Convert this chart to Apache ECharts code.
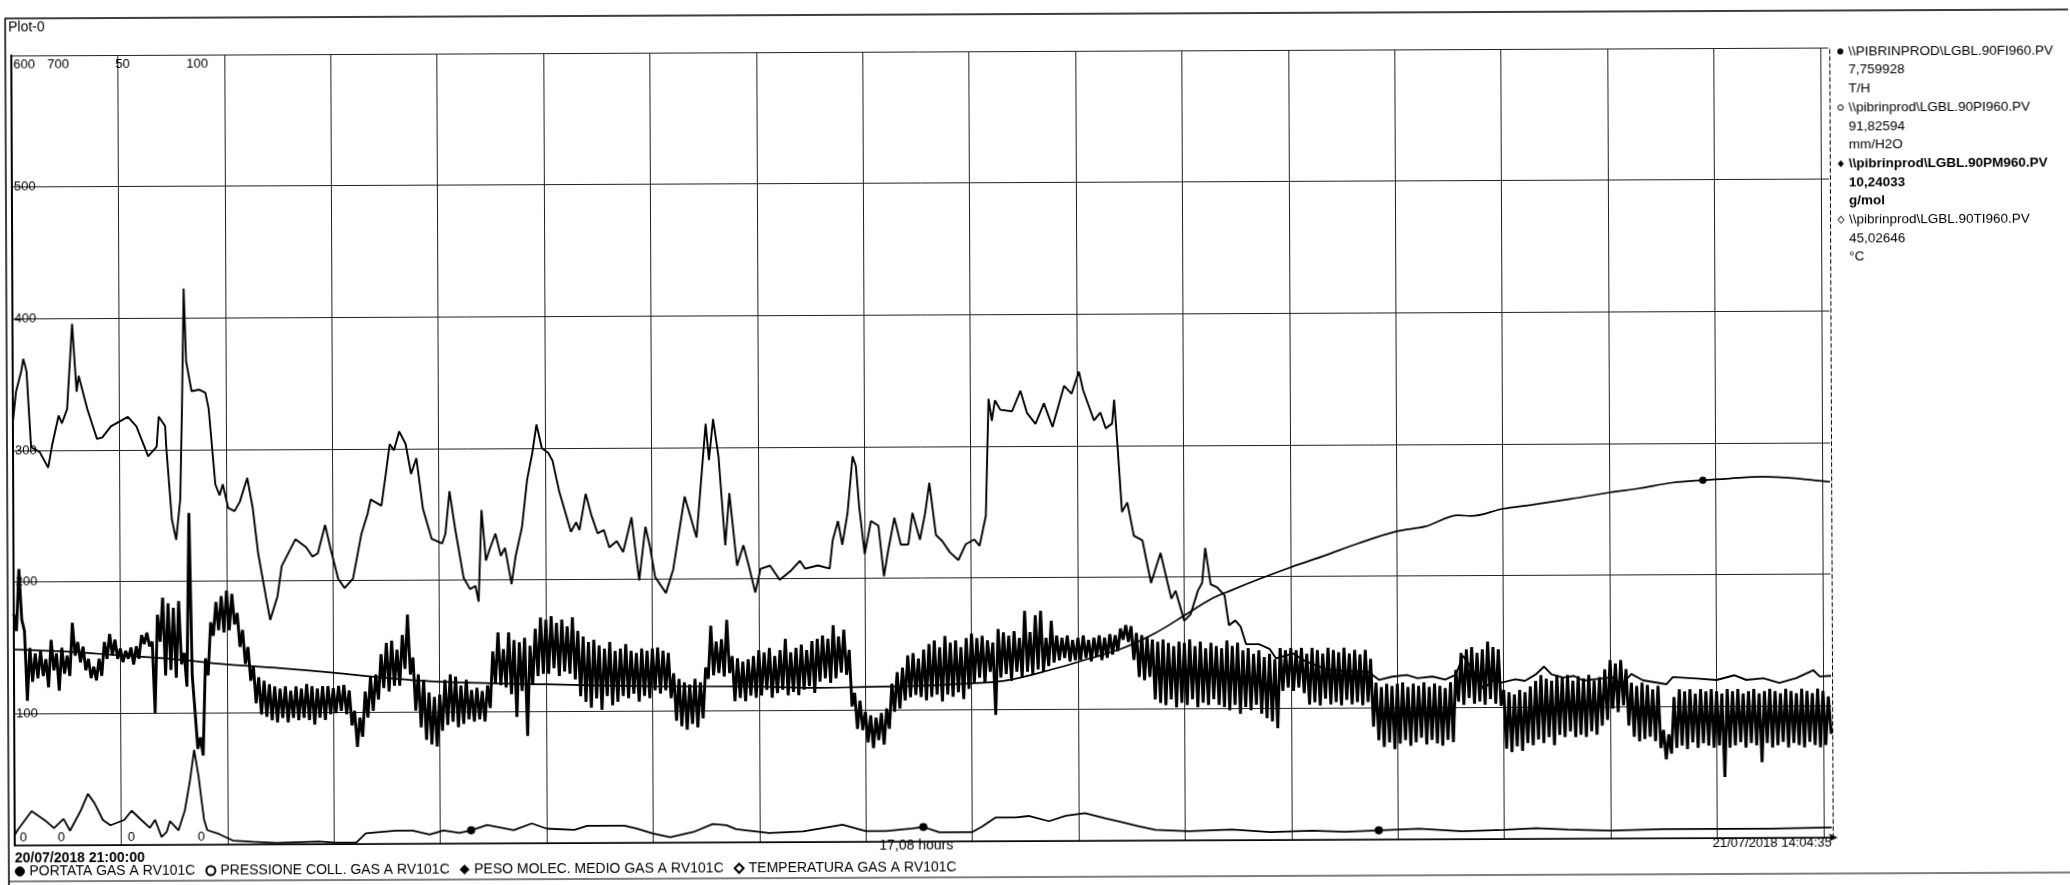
<!DOCTYPE html>
<html><head><meta charset="utf-8">
<script src="https://cdn.jsdelivr.net/npm/echarts@6/dist/echarts.min.js"></script>
<style>html,body{margin:0;padding:0;background:#fff;overflow:hidden}#c{width:2070px;height:885px;transform:rotate(-0.25deg);transform-origin:50% 50%}</style>
</head><body><div id="c"></div>
<script>
// ---------- data ----------
const hoursSpan = 17.0764;                  // 20/07 21:00:00 -> 21/07 14:04:35
const xLabels = ['20/07/2018 21:00:00', '21/07/2018 14:04:35'];
const spanLabel = '17,08 hours';
const seriesNames = ['PORTATA GAS A RV101C', 'PRESSIONE COLL. GAS A RV101C', 'PESO MOLEC. MEDIO GAS A RV101C', 'TEMPERATURA GAS A RV101C'];
const seriesIcons = ['circle', 'emptyCircle', 'diamond', 'emptyDiamond'];
const axisMax = [600, 700, 50, 100];
const axisGridStep = 100;

// PORTATA (T/H) [hours, value]
const portata = [[0,8],[0.03,12],[0.16,26],[0.30,18],[0.37,13],[0.46,20],[0.52,11],[0.62,26],[0.69,39],[0.75,32],[0.83,19],[0.90,15],[1.03,19],[1.10,26],[1.19,19],[1.27,13],[1.32,19],[1.38,6],[1.43,10],[1.46,18],[1.54,11],[1.60,26],[1.65,49],[1.69,72],[1.73,52],[1.78,19],[1.81,11],[1.92,8],[2.05,3],[2.24,2],[2.46,1],[2.86,2],[3.02,1],[3.21,1],[3.30,8],[3.58,10],[3.74,10],[3.90,7],[4.03,10],[4.18,8],[4.29,10],[4.44,14],[4.69,10],[4.86,15],[5.00,11],[5.26,10],[5.38,13],[5.73,13],[5.84,11],[6.00,7],[6.16,4],[6.38,8],[6.56,14],[6.69,13],[6.78,10],[7.09,7],[7.41,8],[7.78,13],[8.00,8],[8.19,8],[8.44,10],[8.54,11],[8.69,7],[9.00,7],[9.09,11],[9.22,18],[9.41,18],[9.53,19],[9.72,15],[9.88,19],[10.06,21],[10.25,17],[10.41,14],[10.56,11],[10.72,8],[11.03,7],[11.44,8],[11.80,6],[12.20,7],[12.50,6],[12.82,7],[13.20,8],[13.60,6],[14.00,7],[14.30,8],[14.60,7],[15.00,6],[15.50,7],[16.00,7],[16.50,7],[17.0764,7.76]];
const portataMarks = [4.29, 8.54, 12.82];

// PRESSIONE (mm/H2O): upper-envelope readings every 0.05 h (from 21:00) and
// lower-envelope readings at the 0.025 h offsets in between
const pressioneStep = 0.05;
const pressioneHi = [
205,245,190,175,170,172,165,182,170,175,168,197,180,176,165,158,165,180,187,182,
174,172,175,176,186,188,180,204,219,214,210,216,170,294,118,95,165,197,215,220,
225,222,205,190,175,158,148,145,142,140,138,140,136,140,138,142,140,138,140,140,
138,140,141,136,118,112,135,148,150,168,178,180,172,185,203,165,150,145,134,130,
132,145,150,148,140,145,136,138,135,140,170,187,172,187,180,178,182,175,190,200,
198,201,195,198,192,200,188,183,178,180,175,172,178,170,172,176,170,168,172,170,
172,173,170,168,150,145,142,140,145,142,155,192,178,180,197,165,163,160,162,165,
170,168,172,165,170,180,168,172,175,170,178,180,183,180,192,182,188,170,132,125,
115,112,110,114,118,140,150,154,165,167,162,170,175,178,172,182,176,178,172,180,
184,180,182,178,176,188,185,182,186,180,204,185,200,204,180,195,182,180,182,178,
180,182,178,180,182,180,183,182,188,191,190,184,182,180,178,176,178,175,172,176,
175,178,172,176,170,175,172,170,177,172,175,168,170,165,168,162,165,160,170,168,
170,168,170,165,170,168,165,170,168,166,170,165,168,164,168,160,139,135,138,136,
138,139,135,138,136,139,135,138,136,134,139,150,165,168,170,165,168,175,170,168,
132,130,128,132,130,135,140,145,142,140,145,143,145,140,144,142,145,140,143,150,
158,155,158,150,138,135,138,136,132,135,96,92,125,132,130,132,128,132,130,132,
130,128,132,130,132,128,130,132,128,130,132,130,128,132,130,128,132,130,128,132,
130,125];
const pressioneLo = [
190,200,128,145,148,150,140,155,137,152,150,168,162,155,148,146,150,165,168,165,
162,165,160,165,178,176,117,180,150,155,148,160,140,150,85,79,150,185,190,188,
190,195,175,160,145,125,115,113,110,108,112,108,112,110,112,110,106,112,110,115,
116,118,115,105,86,95,112,118,128,138,135,140,140,155,150,118,103,92,88,86,
100,105,108,103,106,110,108,110,108,120,142,140,138,132,112,135,95,140,148,150,
150,155,148,152,150,145,130,125,120,128,118,130,122,125,130,128,132,125,130,128,
135,132,135,128,108,103,100,105,102,110,145,148,150,147,150,125,128,125,130,128,
130,135,128,132,135,130,133,130,135,138,132,142,145,141,145,150,148,120,100,99,
88,83,90,86,100,115,118,125,128,130,128,125,128,130,124,130,128,132,126,135,
140,145,140,150,112,145,148,142,150,145,150,148,152,150,155,158,160,162,159,160,
160,162,159,163,160,162,165,168,178,176,160,145,142,145,125,122,120,125,118,122,
120,125,118,122,120,125,120,118,115,120,112,118,115,120,112,108,105,99,132,135,
132,135,130,120,122,119,125,120,122,119,124,120,122,119,122,100,88,82,86,80,
85,88,83,86,90,84,88,85,83,88,86,122,119,125,120,122,119,124,120,118,
80,77,82,78,85,83,88,85,90,83,92,90,95,90,92,90,95,92,100,105,
115,112,118,100,90,86,88,90,86,80,70,75,80,82,79,85,80,84,82,80,
82,54,80,82,85,80,84,82,67,84,80,82,85,80,84,82,80,85,82,80,
82];
const pressioneEnd = 91.83;

// PESO MOLECOLARE (g/mol) [hours, value]
const peso = [[0.00,26.8],[0.03,28.7],[0.08,30.0],[0.10,30.8],[0.13,30.0],[0.17,25.2],[0.25,24.9],[0.33,23.9],[0.37,25.4],[0.43,27.2],[0.46,26.7],[0.51,27.6],[0.56,33.0],[0.60,28.7],[0.62,29.7],[0.70,27.6],[0.79,25.7],[0.84,25.8],[0.92,26.5],[1.08,27.1],[1.16,26.5],[1.27,24.6],[1.35,25.2],[1.37,27.1],[1.40,26.8],[1.43,26.5],[1.44,25.2],[1.49,20.6],[1.53,19.3],[1.57,21.9],[1.59,27.8],[1.61,35.2],[1.63,30.6],[1.68,28.7],[1.75,28.8],[1.81,28.6],[1.84,27.6],[1.90,22.8],[1.94,22.1],[1.97,22.8],[2.02,21.3],[2.08,21.1],[2.13,21.7],[2.20,23.2],[2.25,21.3],[2.30,18.4],[2.37,15.7],[2.41,14.2],[2.48,15.7],[2.52,17.6],[2.65,19.3],[2.75,18.8],[2.81,18.2],[2.86,18.4],[2.93,20.2],[2.98,18.7],[3.05,16.8],[3.11,16.2],[3.19,16.8],[3.27,19.6],[3.33,20.9],[3.36,21.8],[3.46,21.4],[3.50,23.3],[3.54,25.3],[3.58,24.9],[3.63,26.1],[3.69,25.3],[3.74,23.4],[3.79,24.4],[3.85,21.2],[3.93,19.3],[4.03,19.0],[4.06,19.6],[4.10,22.3],[4.15,20.0],[4.23,16.8],[4.29,16.1],[4.34,16.3],[4.37,15.3],[4.40,21.1],[4.44,17.9],[4.48,18.7],[4.53,19.6],[4.58,18.2],[4.62,18.7],[4.68,16.4],[4.72,18.2],[4.78,20.0],[4.83,23.0],[4.88,24.7],[4.92,26.5],[4.97,25.0],[5.03,24.7],[5.07,24.2],[5.13,22.3],[5.24,19.7],[5.29,20.3],[5.32,19.8],[5.38,22.1],[5.43,20.8],[5.49,19.6],[5.55,19.8],[5.60,18.7],[5.67,19.1],[5.73,18.4],[5.81,20.6],[5.84,18.8],[5.88,16.6],[5.94,20.0],[5.98,18.8],[6.03,16.8],[6.13,15.8],[6.20,17.3],[6.31,21.9],[6.42,19.3],[6.51,26.5],[6.54,24.2],[6.58,26.8],[6.63,24.4],[6.69,18.8],[6.73,22.1],[6.80,17.5],[6.86,18.8],[6.91,17.5],[6.97,15.8],[7.02,17.3],[7.11,17.5],[7.20,16.6],[7.31,17.2],[7.39,17.8],[7.44,17.3],[7.56,17.5],[7.67,17.3],[7.70,19.1],[7.75,20.3],[7.79,18.8],[7.84,20.8],[7.89,24.4],[7.92,23.8],[7.95,21.2],[8.00,18.2],[8.06,20.3],[8.13,20.0],[8.18,16.8],[8.22,18.4],[8.28,20.5],[8.34,18.8],[8.41,18.8],[8.45,20.8],[8.52,19.1],[8.57,20.8],[8.61,22.7],[8.67,19.4],[8.73,19.0],[8.80,18.3],[8.88,17.8],[8.95,18.8],[9.03,19.1],[9.08,18.7],[9.14,20.6],[9.17,28.0],[9.20,26.6],[9.23,27.9],[9.28,27.3],[9.39,27.2],[9.47,28.5],[9.53,27.1],[9.61,26.4],[9.69,27.7],[9.77,26.2],[9.88,28.8],[9.95,28.3],[10.02,29.7],[10.06,28.5],[10.16,26.6],[10.22,27.1],[10.27,26.1],[10.33,26.4],[10.35,27.9],[10.38,25.0],[10.42,20.8],[10.47,21.4],[10.53,19.3],[10.61,19.0],[10.69,16.3],[10.78,18.2],[10.88,15.3],[10.92,15.8],[11.00,13.9],[11.06,14.3],[11.13,15.8],[11.17,16.3],[11.20,18.5],[11.25,16.2],[11.31,16.0],[11.38,15.5],[11.42,13.6],[11.48,13.9],[11.53,13.5],[11.58,12.4],[11.70,12.4],[11.80,12.1],[11.86,11.5],[12.02,11.8],[12.14,11.3],[12.33,10.8],[12.48,10.7],[12.73,10.6],[12.83,10.1],[12.95,10.3],[13.09,10.4],[13.19,10.2],[13.33,10.3],[13.45,10.1],[13.55,10.4],[13.62,11.6],[13.70,10.8],[13.81,9.5],[13.91,10.1],[13.98,9.9],[14.11,10.1],[14.20,10.0],[14.30,10.4],[14.38,10.9],[14.45,10.4],[14.56,10.2],[14.66,10.3],[14.75,10.0],[14.88,10.1],[15.02,10.2],[15.11,9.75],[15.20,10.4],[15.31,10.0],[15.53,9.75],[15.59,10.2],[15.81,10.1],[16.00,10.0],[16.17,10.3],[16.28,10.0],[16.44,10.1],[16.59,9.8],[16.75,10.1],[16.91,10.6],[16.97,10.2],[17.0764,10.24]];

// TEMPERATURA (°C) [hours, value]
const temperatura = [[0,24.8],[0.5,24.5],[1.0,24.0],[1.5,23.5],[2.0,22.8],[2.5,22.3],[3.0,21.7],[3.5,21.0],[4.0,20.5],[5.0,20.1],[6.0,19.8],[7.0,19.7],[7.5,19.5],[8.0,19.6],[8.5,19.7],[8.84,19.9],[9.31,20.3],[9.78,21.8],[10.09,23.0],[10.41,24.3],[10.72,26.2],[11.03,28.7],[11.25,30.5],[11.44,31.6],[11.70,33.0],[12.0,34.5],[12.33,36.0],[12.64,37.5],[13.0,39.0],[13.27,39.6],[13.58,41.0],[13.70,40.9],[14.0,41.8],[14.28,42.3],[14.63,43.0],[15.0,43.8],[15.28,44.3],[15.59,45.0],[15.88,45.3],[16.13,45.5],[16.44,45.7],[16.75,45.5],[16.94,45.2],[17.0764,45.03]];
const tempMarks = [15.88];

// right-hand tag panel
const tagNames = ['\\\\PIBRINPROD\\LGBL.90FI960.PV', '\\\\pibrinprod\\LGBL.90PI960.PV', '\\\\pibrinprod\\LGBL.90PM960.PV', '\\\\pibrinprod\\LGBL.90TI960.PV'];
const tagValues = ['7,759928', '91,82594', '10,24033', '45,02646'];
const tagUnits = ['T/H', 'mm/H2O', 'g/mol', '°C'];
const tagBold = [false, false, true, false];
const plotTitle = 'Plot-0';

// ---------- build ----------
const FONT = '"Liberation Sans", Arial, sans-serif';
const pressionePts = [];
pressioneHi.forEach((v, i) => {
  pressionePts.push([+(i * pressioneStep).toFixed(3), v]);
  if (i < pressioneLo.length) pressionePts.push([+(i * pressioneStep + pressioneStep / 2).toFixed(3), pressioneLo[i]]);
});
pressionePts.push([hoursSpan, pressioneEnd]);

function withMarks(points, marks, sym, size) {
  return points.map(p => marks.some(m => Math.abs(m - p[0]) < 1e-6)
    ? { value: p, symbol: sym, symbolSize: size, itemStyle: { color: '#000', borderColor: '#000', borderWidth: 1.2 } }
    : p);
}

const labelPos = [{ m: 2, z: 3 }, { m: 36, z: 7 }, { m: 104, z: 9 }, { m: 175, z: 8 }];
const yAxes = axisMax.map((mx, i) => ({
  type: 'value', min: 0, max: mx, interval: i === 0 ? axisGridStep : mx, position: 'left',
  axisLine: { show: i === 0, lineStyle: { color: '#000', width: 2 } },
  axisTick: { show: false },
  splitLine: { show: i === 0, lineStyle: { color: '#222', width: 1 } },
  axisLabel: {
    inside: true, margin: labelPos[i].m, color: '#000', fontSize: 13, fontFamily: FONT,
    showMinLabel: true, showMaxLabel: true,
    formatter: v => v === mx ? '{t|' + v + '}' : (v === 0 ? '{b|0}' : String(v)),
    rich: {
      t: { fontSize: 13, color: '#000', fontFamily: FONT, padding: [19, 0, 0, 0] },
      b: { fontSize: 13, color: '#000', fontFamily: FONT, padding: [0, 0, 16, labelPos[i].z] }
    }
  }
}));
// dashed right edge
yAxes.push({
  type: 'value', min: 0, max: 1, position: 'right', offset: 1,
  axisLine: { show: true, lineStyle: { color: '#000', width: 1, type: [4, 3] } },
  axisTick: { show: false }, axisLabel: { show: false }, splitLine: { show: false }
});

const lineBase = (name, yIdx, data, width, extra) => Object.assign({
  name, type: 'line', yAxisIndex: yIdx, data, symbol: 'none', showSymbol: true,
  color: '#000', lineStyle: { color: '#000', width }, animation: false, silent: true, clip: true
}, extra || {});

const graphics = [
  { type: 'polyline', shape: { points: [[2075, 14], [7, 14], [7, 890]] }, style: { stroke: '#000', lineWidth: 1.5, fill: null } },
  { type: 'line', shape: { x1: 7, y1: 877, x2: 2075, y2: 877 }, style: { stroke: '#000', lineWidth: 1.2 } },
  { type: 'text', x: 10, y: 23, style: { text: plotTitle, font: '14px ' + FONT, fill: '#000', verticalAlign: 'middle', align: 'left' } }
];
const px = 1842, tx = 1850, y0 = 55, dy = 18.7;
tagNames.forEach((nm, i) => {
  const y = y0 + i * 3 * dy;
  const sym = seriesIcons[i];
  if (sym === 'circle') graphics.push({ type: 'circle', shape: { cx: px, cy: y, r: 3 }, style: { fill: '#000' } });
  if (sym === 'emptyCircle') graphics.push({ type: 'circle', shape: { cx: px, cy: y, r: 2.6 }, style: { fill: '#fff', stroke: '#000', lineWidth: 1 } });
  if (sym === 'diamond') graphics.push({ type: 'polygon', shape: { points: [[px, y - 3.5], [px + 3, y], [px, y + 3.5], [px - 3, y]] }, style: { fill: '#000' } });
  if (sym === 'emptyDiamond') graphics.push({ type: 'polygon', shape: { points: [[px, y - 3.5], [px + 3, y], [px, y + 3.5], [px - 3, y]] }, style: { fill: '#fff', stroke: '#000', lineWidth: 1 } });
  const f = (tagBold[i] ? 'bold ' : '') + '13.5px ' + FONT;
  [nm, tagValues[i], tagUnits[i]].forEach((t, k) => {
    graphics.push({ type: 'text', x: tx, y: y + k * dy, style: { text: t, font: f, fill: '#000', verticalAlign: 'middle', align: 'left' } });
  });
});

const chart = echarts.init(document.getElementById('c'), null, { renderer: 'canvas' });
chart.setOption({
  backgroundColor: '#fff',
  animation: false,
  textStyle: { fontFamily: FONT },
  grid: { left: 13, right: 240, top: 51, bottom: 44, containLabel: false },
  xAxis: {
    type: 'value', min: 0, max: hoursSpan, interval: 1,
    name: spanLabel, nameLocation: 'middle', nameGap: -3, nameMoveOverlap: false,
    nameTextStyle: { color: '#000', fontSize: 14, fontFamily: FONT, verticalAlign: 'top', padding: [0, 14, 0, 0] },
    axisLine: { show: true, lineStyle: { color: '#000', width: 1.5 }, symbol: ['none', 'arrow'], symbolSize: [6, 9], symbolOffset: [0, 6] },
    axisTick: { show: false },
    splitLine: { show: true, showMaxLine: false, lineStyle: { color: '#222', width: 1 } },
    axisLabel: {
      margin: -1, color: '#000', fontSize: 13, fontFamily: FONT,
      showMinLabel: true, showMaxLabel: true, alignMinLabel: 'left', alignMaxLabel: 'right',
      formatter: v => v === 0 ? '{s|' + xLabels[0] + '}' : (Math.abs(v - hoursSpan) < 1e-6 ? xLabels[1] : ''),
      rich: { s: { fontSize: 14, fontWeight: 'bold', color: '#000', fontFamily: FONT, padding: [7, 0, 0, 0] } }
    }
  },
  yAxis: yAxes,
  legend: {
    left: 8, top: 855, itemWidth: 9, itemHeight: 9, itemGap: 10, selectedMode: false,
    textStyle: { color: '#000', fontSize: 14, fontFamily: FONT },
    data: seriesNames.map((n, i) => ({ name: n, icon: seriesIcons[i], itemStyle: { color: '#000', borderColor: '#000', borderWidth: 1 } }))
  },
  graphic: graphics,
  series: [
    lineBase(seriesNames[0], 0, withMarks(portata, portataMarks, 'circle', 7), 1.8),
    lineBase(seriesNames[1], 1, pressionePts, 2.9),
    lineBase(seriesNames[2], 2, peso, 1.9),
    lineBase(seriesNames[3], 3, withMarks(temperatura, tempMarks, 'circle', 6), 1.7, { smooth: 0.35 })
  ]
});
</script>
</body></html>
